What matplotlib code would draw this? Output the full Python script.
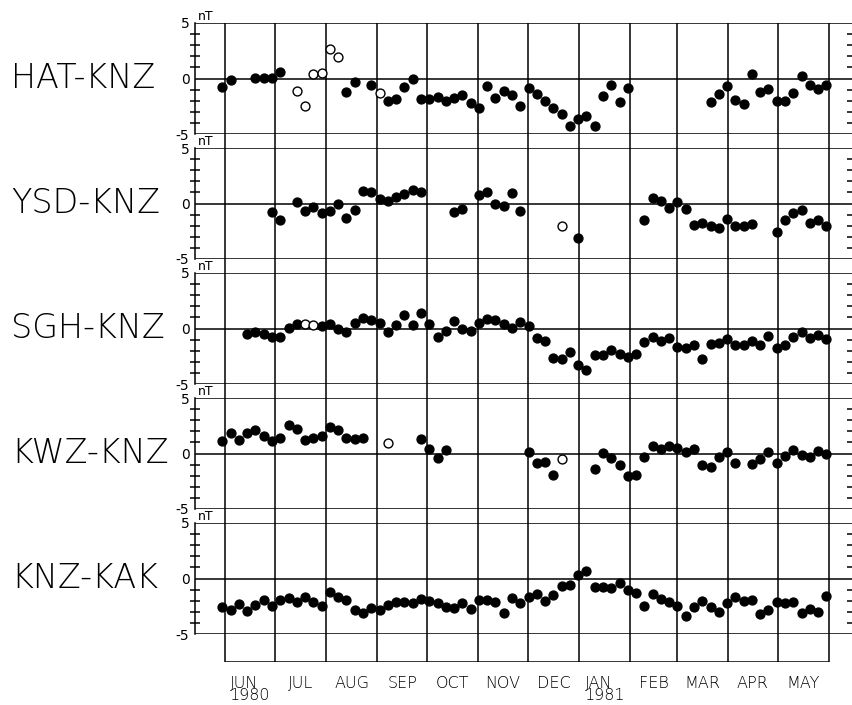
import numpy as np
import pandas as pd
import matplotlib
matplotlib.use('Agg')
import matplotlib.pyplot as plt

nan = np.nan

stations = ['HAT-KNZ', 'YSD-KNZ', 'SGH-KNZ', 'KWZ-KNZ', 'KNZ-KAK']

# 5-day means, first one centred on 30 May 1980
pentads = pd.date_range('1980-05-30 10:00', periods=74, freq='5D')

hat = [-0.81, -0.15, nan, nan, 0.06, 0.06, 0.06, 0.60, nan, -1.14,
       -2.46, 0.39, 0.51, 2.63, 1.95, -1.26, -0.36, nan, -0.60, -1.35,
       -2.01, -1.86, -0.75, -0.06, -1.86, -1.89, -1.65, -2.04, -1.74, -1.50,
       -2.25, -2.69, -0.66, -1.80, -1.14, -1.50, -2.49, -0.84, -1.38, -2.04,
       -2.63, -3.17, -4.28, -3.65, -3.35, -4.28, -1.59, -0.60, -2.10, -0.90,
       nan, nan, nan, nan, nan, nan, nan, nan, nan, -2.10,
       -1.38, -0.69, -1.95, -2.28, 0.45, -1.20, -0.99, -2.04, -2.04, -1.29,
       0.27, -0.60, -0.99, -0.60]
hat_open = [9, 10, 11, 12, 13, 14, 19]

ysd = [nan, nan, nan, nan, nan, nan, -0.76, -1.45, nan, 0.15,
       -0.67, -0.36, -0.85, -0.70, 0.00, -1.27, -0.55, 1.15, 1.06, 0.39,
       0.21, 0.61, 0.82, 1.21, 1.06, nan, nan, nan, -0.76, -0.52,
       nan, 0.76, 1.06, 0.00, -0.24, 0.91, -0.64, nan, nan, nan,
       nan, -2.03, nan, -3.12, nan, nan, nan, nan, nan, nan,
       nan, -1.52, 0.52, 0.21, -0.45, 0.15, -0.52, -1.91, -1.73, -2.03,
       -2.21, -1.42, -2.03, -2.03, -1.82, nan, nan, -2.58, -1.52, -0.82,
       -0.61, -1.73, -1.52, -2.03]
ysd_open = [41]

sgh = [nan, nan, nan, -0.52, -0.30, -0.52, -0.76, -0.76, 0.09, 0.45,
       0.45, 0.33, 0.24, 0.45, -0.06, -0.30, 0.48, 0.94, 0.79, 0.48,
       -0.30, 0.33, 1.24, 0.33, 1.39, 0.39, -0.73, -0.21, 0.64, 0.00,
       -0.27, 0.48, 0.85, 0.76, 0.42, 0.09, 0.61, 0.24, -0.88, -1.12,
       -2.64, -2.73, -2.09, -3.33, -3.70, -2.42, -2.42, -1.97, -2.27, -2.58,
       -2.33, -1.21, -0.73, -1.12, -0.82, -1.64, -1.73, -1.52, -2.73, -1.42,
       -1.27, -0.97, -1.52, -1.52, -1.12, -1.52, -0.67, -1.73, -1.52, -0.76,
       -0.36, -0.82, -0.58, -0.91]
sgh_open = [10, 11]

kwz = [1.09, 1.82, 1.21, 1.82, 2.12, 1.61, 1.15, 1.36, 2.61, 2.21,
       1.24, 1.36, 1.61, 2.42, 2.12, 1.36, 1.30, 1.36, nan, nan,
       0.91, nan, nan, nan, 1.30, 0.39, -0.42, 0.30, nan, nan,
       nan, nan, nan, nan, nan, nan, nan, 0.18, -0.88, -0.76,
       -1.94, -0.52, nan, nan, nan, -1.42, 0.09, -0.42, -1.03, -2.03,
       -1.97, -0.36, 0.70, 0.39, 0.70, 0.48, 0.15, 0.45, -1.03, -1.21,
       -0.30, 0.18, -0.88, nan, -0.97, -0.52, 0.18, -0.88, -0.27, 0.30,
       -0.12, -0.36, 0.24, -0.06]
kwz_open = [20, 41]

kak = [-2.54, -2.84, -2.34, -2.93, -2.43, -1.98, -2.49, -1.95, -1.74, -2.10,
       -1.68, -2.10, -2.49, -1.23, -1.65, -1.98, -2.84, -3.08, -2.69, -2.84,
       -2.43, -2.13, -2.13, -2.19, -1.89, -2.04, -2.25, -2.54, -2.69, -2.19,
       -2.72, -1.98, -1.98, -2.13, -3.08, -1.80, -2.19, -1.65, -1.44, -2.04,
       -1.50, -0.66, -0.60, 0.30, 0.66, -0.75, -0.81, -0.90, -0.39, -1.05,
       -1.35, -2.48, -1.44, -1.86, -2.10, -2.48, -3.35, -2.54, -2.04, -2.54,
       -3.05, -2.19, -1.65, -2.01, -1.95, -3.20, -2.84, -2.16, -2.19, -2.16,
       -3.08, -2.75, -2.99, -1.59]
kak_open = []

series = [(hat, hat_open), (ysd, ysd_open), (sgh, sgh_open),
          (kwz, kwz_open), (kak, kak_open)]

plt.rcParams['font.family'] = ['DejaVu Sans']

W, H = 852, 705
lw = 1.1
fig = plt.figure(figsize=(W / 100, H / 100), dpi=100)

t0 = pd.Timestamp('1980-06-01')
days = ((pentads - t0) / pd.Timedelta(days=1)).to_numpy()
month_edges = pd.date_range('1980-06-01', '1981-06-01', freq='MS')
edge_days = ((month_edges - t0) / pd.Timedelta(days=1)).to_numpy()
px_per_day = (829 - 225) / edge_days[-1]
xlim = ((195 - 225) / px_per_day, (852 - 225) / px_per_day)

# background: month grid lines running through all panels
bg = fig.add_axes([195 / W, 1 - 662 / H, (852 - 195) / W, (662 - 23) / H])
bg.set_xlim(xlim)
bg.set_ylim(0, 1)
bg.vlines(edge_days, 0, 1, color='k', lw=lw)
bg.hlines(0, edge_days[0], edge_days[-1], color='k', lw=lw)
for s in bg.spines.values():
    s.set_visible(False)
bg.set_yticks([])
centers = (edge_days[:-1] + edge_days[1:]) / 2
labels = [d.strftime('%b').upper() for d in month_edges[:-1]]
labels[0] += '\n1980'
labels[7] += '\n1981'
bg.set_xticks(centers, labels)
bg.tick_params(axis='x', length=0, pad=10, labelsize=11.5)
for lab in bg.get_xticklabels():
    lab.set_multialignment('left')
    lab.set_linespacing(0.8)
    lab.set_fontweight('light')

for i, (name, (vals, opens)) in enumerate(zip(stations, series)):
    top = 23 + 125 * i
    ax = fig.add_axes([195 / W, 1 - (top + 111) / H, (852 - 195) / W, 111 / H])
    ax.set_facecolor('none')
    ax.set_xlim(xlim)
    ax.set_ylim(-5, 5)
    for side in ['top', 'right', 'bottom']:
        ax.spines[side].set_visible(False)
    ax.spines['left'].set_linewidth(lw)
    for y in (5, 0, -5):
        ax.axhline(y, color='k', lw=lw)
    ax.set_xticks([])
    ax.set_yticks([-5, 0, 5], ['-5', '0', '5'])
    ax.set_yticks([-4, -3, -2, -1, 1, 2, 3, 4], minor=True)
    ax.tick_params(axis='y', which='major', length=0, pad=4, labelsize=10)
    ax.tick_params(axis='y', which='minor', direction='inout', length=7,
                   width=lw, left=True, right=True)

    v = np.array(vals)
    is_open = np.zeros(len(v), dtype=bool)
    is_open[opens] = True
    ax.plot(days[~is_open], v[~is_open], 'o', ms=6.4, color='k', clip_on=False)
    ax.plot(days[is_open], v[is_open], 'o', ms=6.4, mfc='white', mec='k',
            mew=1, clip_on=False)

    ax.text(0.004, 5, 'nT', transform=ax.get_yaxis_transform(),
            ha='left', va='bottom', fontsize=9)
    ax.text(-0.28, 0, name, transform=ax.get_yaxis_transform(),
            ha='left', va='center', fontsize=24, fontweight='light')

fig.savefig('out.png', dpi=100)
